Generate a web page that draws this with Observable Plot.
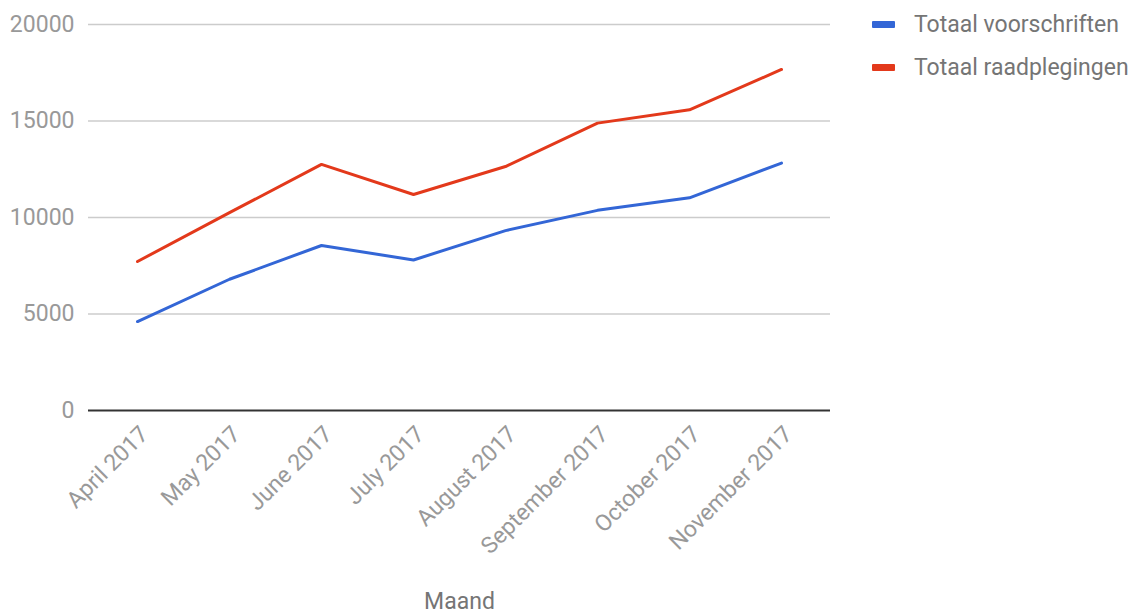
<!DOCTYPE html>
<html>
<head>
<meta charset="utf-8">
<script src="https://cdn.jsdelivr.net/npm/d3@7"></script>
<script src="https://cdn.jsdelivr.net/npm/@observablehq/plot@0.6"></script>
<style>
  html, body { margin: 0; padding: 0; background: #fff; }
  #wrap { position: relative; width: 1137px; height: 614px; font-family: Roboto, sans-serif; }
  #legend { position: absolute; left: 872px; top: 3px; }
  .item { display: flex; align-items: center; height: 43px; font-size: 23px; color: #757575; }
  .sw { width: 23px; height: 7px; margin-right: 19px; border-radius: 1px; }
</style>
</head>
<body>
<div id="wrap"><div id="legend"></div></div>
<script>
const months = ["April 2017", "May 2017", "June 2017", "July 2017", "August 2017", "September 2017", "October 2017", "November 2017"];
const seriesNames = ["Totaal voorschriften", "Totaal raadplegingen"];
const voorschriften = [4610, 6800, 8550, 7800, 9320, 10370, 11020, 12820];
const raadplegingen = [7720, 10250, 12750, 11190, 12640, 14890, 15580, 17670];
const colors = ["#3366d6", "#e3391b"];
const yTicks = [0, 5000, 10000, 15000, 20000];

const data = [];
months.forEach((m, i) => {
  data.push({ month: m, value: voorschriften[i], series: seriesNames[0] });
  data.push({ month: m, value: raadplegingen[i], series: seriesNames[1] });
});

const chart = Plot.plot({
  width: 1137,
  height: 614,
  marginLeft: 88,
  marginRight: 307,
  marginTop: 24,
  marginBottom: 204,
  style: { fontFamily: "Roboto, sans-serif", fontSize: "23px", background: "#fff" },
  x: { type: "point", domain: months, padding: 0.5 },
  y: { domain: [0, 20000] },
  color: { domain: seriesNames, range: colors },
  marks: [
    Plot.gridY(yTicks.filter(d => d > 0), { stroke: "#cccccc", strokeOpacity: 1, strokeWidth: 1.3 }),
    Plot.axisY(yTicks, { tickSize: 0, tickPadding: 14, tickFormat: d3.format("d"), fill: "#999999", fontSize: 23, label: null }),
    Plot.axisX({ tickSize: 0, tickPadding: 10, dx: 7, dy: 10, tickRotate: -45, fill: "#999999", fontSize: 23, label: null }),
    Plot.axisX({ tickSize: 0, ticks: [], fill: "#757575", fontSize: 23, label: "Maand", labelAnchor: "center", labelArrow: "none", labelOffset: 198 }),
    Plot.ruleY([0], { stroke: "#333333", strokeWidth: 2 }),
    Plot.line(data, { x: "month", y: "value", z: "series", stroke: "series", strokeWidth: 3 })
  ]
});
document.getElementById("wrap").prepend(chart);

const legend = document.getElementById("legend");
seriesNames.forEach((name, i) => {
  const it = document.createElement("div");
  it.className = "item";
  const sw = document.createElement("div");
  sw.className = "sw";
  sw.style.background = colors[i];
  const t = document.createElement("span");
  t.textContent = name;
  it.appendChild(sw);
  it.appendChild(t);
  legend.appendChild(it);
});
</script>
</body>
</html>
